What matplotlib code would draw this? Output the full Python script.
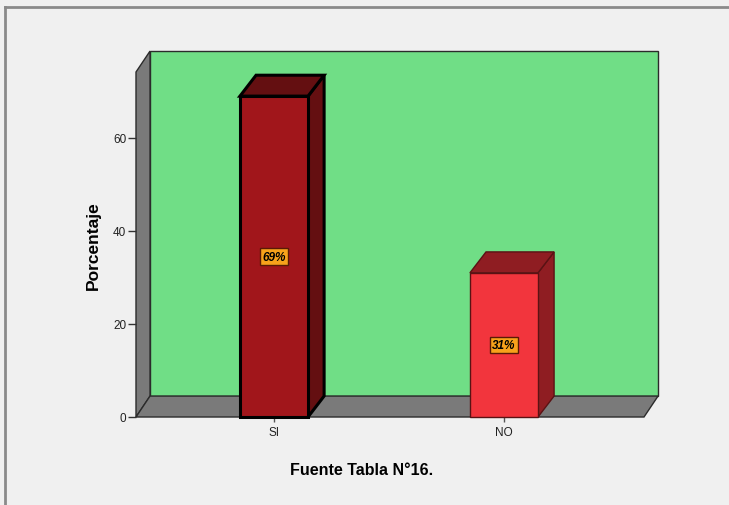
import matplotlib
matplotlib.use("Agg")
import matplotlib.pyplot as plt
from matplotlib.patches import Polygon, Rectangle
from matplotlib.lines import Line2D

# data
categories = ["SI", "NO"]
values = [69, 31]
labels = ["69%", "31%"]
front_colors = ["#A1161B", "#F2353D"]
shade_colors = ["#640F11", "#8F1D22"]
edge_colors = ["#000000", "#5a1214"]
edge_widths = [2.2, 1.0]

plt.rcParams["font.family"] = ["Liberation Sans", "DejaVu Sans"]

fig = plt.figure(figsize=(7.29, 5.06), dpi=100, facecolor="#f0f0f0")
ax = fig.add_axes([136 / 729, 88 / 506, 508 / 729, 345 / 506])
ax.set_facecolor("none")

x0, x1 = -0.6, 1.609
ytop = 74.19
ax.set_xlim(x0, x1)
ax.set_ylim(0, ytop)

# depth of the 3d box, in data units
dx, dy = 0.061, 4.5
bdx = 0.07
width = 0.296

wall_kw = dict(clip_on=False, linewidth=1.0, joinstyle="miter")
# back wall
ax.add_patch(Rectangle((x0 + dx, dy), x1 - x0, ytop, facecolor="#70DE86",
                       edgecolor="#2b2b2b", zorder=1, **wall_kw))
# left side wall
ax.add_patch(Polygon([(x0, 0), (x0, ytop), (x0 + dx, ytop + dy), (x0 + dx, dy)],
                     facecolor="#7a7a7a", edgecolor="#2b2b2b", zorder=1, **wall_kw))
# floor
ax.add_patch(Polygon([(x0, 0), (x1, 0), (x1 + dx, dy), (x0 + dx, dy)],
                     facecolor="#7a7a7a", edgecolor="#2b2b2b", zorder=1, **wall_kw))

xs = range(len(categories))
for i, v in zip(xs, values):
    l, r = i - width / 2, i + width / 2
    kw = dict(edgecolor=edge_colors[i], linewidth=edge_widths[i],
              joinstyle="miter", clip_on=False, zorder=3)
    ax.add_patch(Polygon([(r, 0), (r + bdx, dy), (r + bdx, v + dy), (r, v)],
                         facecolor=shade_colors[i], **kw))
    ax.add_patch(Polygon([(l, v), (r, v), (r + bdx, v + dy), (l + bdx, v + dy)],
                         facecolor=shade_colors[i], **kw))
    ax.add_patch(Rectangle((l, 0), width, v, facecolor=front_colors[i], **kw))
    ax.text(i, v / 2, labels[i], ha="center", va="center", fontsize=8.5,
            fontweight="bold", fontstyle="italic", color="black", zorder=5,
            bbox=dict(boxstyle="square,pad=0.2", facecolor="#F7A21B",
                      edgecolor="#5a1a05", linewidth=1.0))

for s in ax.spines.values():
    s.set_visible(False)

ax.set_yticks([0, 20, 40, 60])
ax.set_xticks(list(xs))
ax.set_xticklabels(categories)
ax.tick_params(axis="y", length=6, width=1, color="#333333", labelsize=8.5,
               labelcolor="#222222", pad=1)
ax.tick_params(axis="x", length=7, width=1, color="#555555", labelsize=8.5,
               labelcolor="#222222", pad=3, direction="inout")

ax.set_ylabel("Porcentaje", fontsize=12.5, fontweight="bold")
ax.yaxis.set_label_coords(-0.07, 0.5)
ax.set_xlabel("Fuente Tabla N°16.", fontsize=11.5, fontweight="bold")
ax.xaxis.set_label_coords(0.445, -0.13)

# outer frame lines
fig.add_artist(Line2D([5 / 729, 1], [1 - 8 / 506, 1 - 8 / 506],
                      color="#8a8a8a", linewidth=2))
fig.add_artist(Line2D([5 / 729, 5 / 729], [0, 1 - 8 / 506],
                      color="#8a8a8a", linewidth=2))

fig.savefig("out.png", dpi=100, facecolor=fig.get_facecolor())
